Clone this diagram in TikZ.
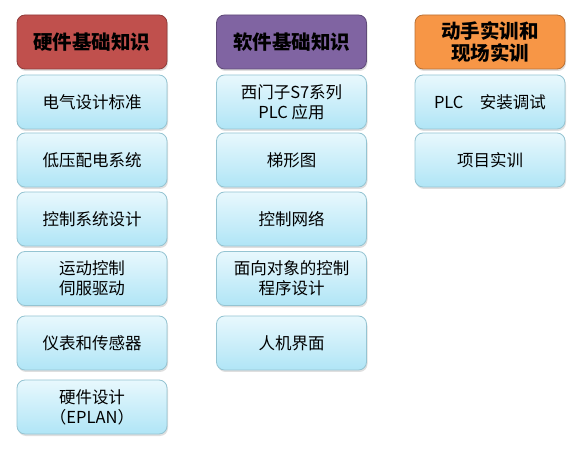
\documentclass[tikz,border=0pt]{standalone}
\usepackage{fontspec}
\setmainfont{Noto Sans CJK SC}
\usetikzlibrary{shadows}
\definecolor{hwred}{HTML}{C0504D}
\definecolor{swpurple}{HTML}{8064A2}
\definecolor{prorange}{HTML}{F79646}
\definecolor{itemtop}{HTML}{E8F8FD}
\definecolor{itembot}{HTML}{B0E5F6}
\definecolor{itemline}{HTML}{95C4D2}
\begin{document}
\begin{tikzpicture}[x=1pt,y=-1pt,
        item/.style={shape=rectangle,rounded corners=8pt,draw=itemline,line width=0.8pt,
            top color=itemtop,bottom color=itembot,minimum width=150pt,minimum height=54pt,
            inner sep=0pt,align=center,font=\fontsize{16.5}{20}\selectfont,
            drop shadow={shadow xshift=1pt,shadow yshift=-2pt,opacity=0.25}},
        head/.style={item,font=\fontsize{19.5}{22}\selectfont\bfseries,
            top color=#1,bottom color=#1,draw=#1!75!black}]
        \useasboundingbox (0,0) rectangle (587,457);
        % column 1
        \node[head=hwred] (hw) at (92,42) {硬件基础知识};
        \node[item] (hw-1) at (92,102) {电气设计标准};
        \node[item] (hw-2) at (92,160) {低压配电系统};
        \node[item] (hw-3) at (92,219) {控制系统设计};
        \node[item] (hw-4) at (92,278.5) {运动控制\\伺服驱动};
        \node[item] (hw-5) at (92,343) {仪表和传感器};
        \node[item] (hw-6) at (92,407) {硬件设计\\（EPLAN）};
        % column 2
        \node[head=swpurple] (sw) at (291.5,42) {软件基础知识};
        \node[item] (sw-1) at (291.5,102) {西门子S7系列\\PLC 应用};
        \node[item] (sw-2) at (291.5,160) {梯形图};
        \node[item] (sw-3) at (291.5,219) {控制网络};
        \node[item] (sw-4) at (291.5,278.5) {面向对象的控制\\程序设计};
        \node[item] (sw-5) at (291.5,343) {人机界面};
        % column 3
        \node[head=prorange] (pr) at (490,42) {动手实训和\\现场实训};
        \node[item] (pr-1) at (490,102) {PLC\quad 安装调试};
        \node[item] (pr-2) at (490,160) {项目实训};
\end{tikzpicture}
\end{document}
